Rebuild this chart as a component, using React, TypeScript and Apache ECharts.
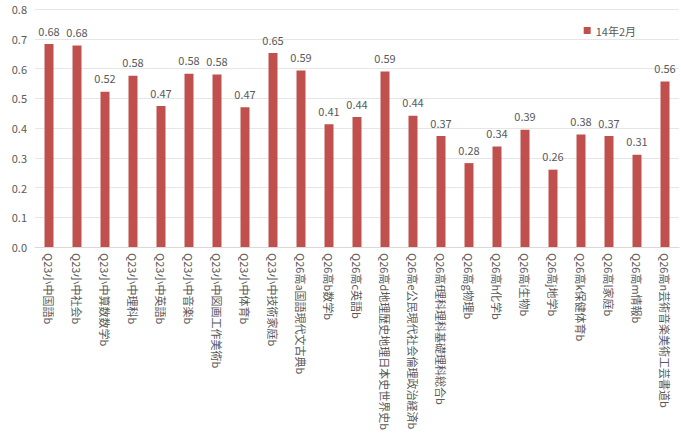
import React, { useEffect, useRef } from "react";
import * as echarts from "echarts";

const categories = [
  "Q23小中国語b",
  "Q23小中社会b",
  "Q23小中算数数学b",
  "Q23小中理科b",
  "Q23小中英語b",
  "Q23小中音楽b",
  "Q23小中図画工作美術b",
  "Q23小中体育b",
  "Q23小中技術家庭b",
  "Q26高a国語現代文古典b",
  "Q26高b数学b",
  "Q26高c英語b",
  "Q26高d地理歴史地理日本史世界史b",
  "Q26高e公民現代社会倫理政治経済b",
  "Q26高f理科理科基礎理科総合b",
  "Q26高g物理b",
  "Q26高h化学b",
  "Q26高i生物b",
  "Q26高j地学b",
  "Q26高k保健体育b",
  "Q26高l家庭b",
  "Q26高m情報b",
  "Q26高n芸術音楽美術工芸書道b",
];

const values = [
  0.682, 0.677, 0.522, 0.576, 0.474, 0.582, 0.58, 0.47, 0.652, 0.593, 0.413,
  0.437, 0.59, 0.441, 0.373, 0.282, 0.338, 0.394, 0.26, 0.378, 0.373, 0.31,
  0.556,
];

const seriesName = "14年2月";
const yTicks = { min: 0, max: 0.8, interval: 0.1 };

export default function App() {
  const ref = useRef<HTMLDivElement>(null);
  useEffect(() => {
    if (!ref.current) return;
    const chart = echarts.init(ref.current, null, { renderer: "svg" });
    const font = "'Noto Sans CJK JP', 'Noto Sans', sans-serif";
    chart.setOption({
      animation: false,
      backgroundColor: "#ffffff",
      textStyle: { fontFamily: font },
      legend: {
        data: [seriesName],
        right: 40,
        top: 20,
        itemWidth: 7,
        itemHeight: 7,
        itemGap: 3,
        icon: "rect",
        textStyle: { fontSize: 11, color: "#595959", fontFamily: font },
      },
      grid: { left: 35, right: 2, top: 9, bottom: 185, containLabel: false },
      xAxis: {
        type: "category",
        data: categories,
        axisLine: { lineStyle: { color: "#d9d9d9" } },
        axisTick: { show: false },
        axisLabel: {
          rotate: -90,
          interval: 0,
          fontSize: 11,
          color: "#595959",
          fontFamily: font,
          margin: 6,
        },
      },
      yAxis: {
        type: "value",
        min: yTicks.min,
        max: yTicks.max,
        interval: yTicks.interval,
        axisLabel: {
          formatter: (v: number) => v.toFixed(1),
          fontSize: 11,
          color: "#595959",
          margin: 8,
          fontFamily: font,
        },
        axisLine: { show: false },
        axisTick: { show: false },
        splitLine: { lineStyle: { color: "#e6e6e6" } },
      },
      series: [
        {
          name: seriesName,
          type: "bar",
          data: values,
          barWidth: 9,
          itemStyle: { color: "#c0504d" },
          label: {
            show: true,
            position: "top",
            distance: 8,
            formatter: (p: any) => Number(p.value).toFixed(2),
            fontSize: 11,
            color: "#595959",
            fontFamily: font,
          },
        },
      ],
    });
    return () => chart.dispose();
  }, []);
  return (
    <div
      ref={ref}
      style={{ position: "fixed", left: 0, top: 0, width: 681, height: 433 }}
    />
  );
}
